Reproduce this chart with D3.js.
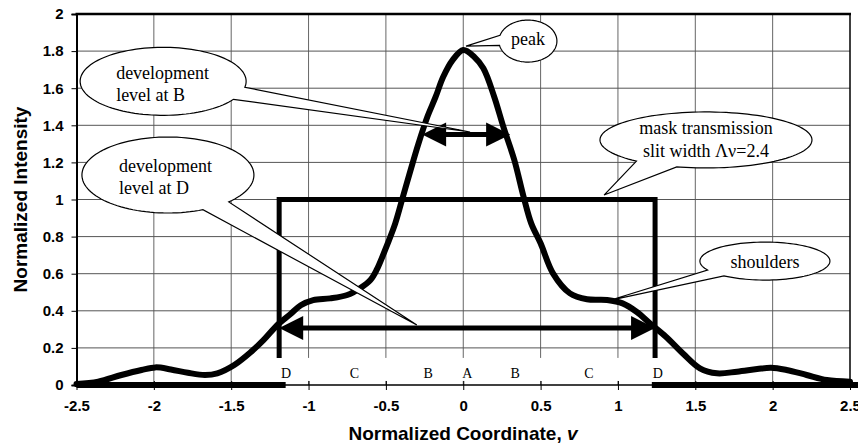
<!DOCTYPE html>
<html>
<head>
<meta charset="utf-8">
<script src="https://cdn.jsdelivr.net/npm/d3@7"></script>
<style>
	body	{margin:0;background:#fff;}
	svg	{display:block;}
</style>
</head>
<body>
<svg id="chart" width="858" height="443"></svg>
<script>
// aerial image intensity
var	curveX	= [-2.5,-2.36,-2.21,-2.08,-1.99,-1.89,-1.78,-1.67,-1.59,-1.48,-1.37,-1.29,-1.2,-1.12,-1.05,-0.97,-0.86,-0.75,-0.67,-0.6,-0.56,-0.49,-0.44,-0.39,-0.34,-0.29,-0.23,-0.18,-0.13,-0.07,0,0.07,0.13,0.2,0.26,0.33,0.39,0.44,0.5,0.58,0.69,0.8,0.93,1.03,1.12,1.21,1.31,1.42,1.53,1.64,1.77,1.9,1.99,2.09,2.22,2.35,2.5],
	curveY	= [0.005,0.018,0.054,0.081,0.095,0.084,0.066,0.054,0.063,0.108,0.18,0.243,0.325,0.38,0.43,0.458,0.467,0.485,0.52,0.566,0.62,0.76,0.87,1.015,1.16,1.3,1.45,1.55,1.66,1.75,1.806,1.77,1.707,1.554,1.39,1.213,1.015,0.87,0.764,0.602,0.494,0.462,0.458,0.44,0.395,0.33,0.26,0.17,0.09,0.063,0.072,0.086,0.093,0.081,0.054,0.027,0.018],
	xTicks	= [-2.5,-2,-1.5,-1,-0.5,0,0.5,1,1.5,2,2.5],
	yTicks	= [0,0.2,0.4,0.6,0.8,1,1.2,1.4,1.6,1.8,2],
	maskEdges	= [-1.19, 1.24],
	maskLevel	= 1,
	maskFoot	= 0.146,
	floorEnds	= [-1.148, 1.219],
	zoneNames	= ["D","C","B","A","B","C","D"],
	zoneX		= [-1.145,-0.703,-0.226,0.026,0.335,0.813,1.258],
	arrowB		= [-0.266, 0.303],
	levelB		= 1.35,
	arrowD		= [-1.19, 1.24],
	levelD		= 0.307;

var	callouts = [
		{lines:["peak"], cx:0.418, cy:1.854, rx:29, ry:21, tip:[0.018,1.827], gap:[168,196], anchor:"middle", tx:0, ty:[4]},
		{lines:["development","level at B"], cx:-1.94, cy:1.637, rx:83, ry:34, tip:[0.044,1.364], gap:[10,32], anchor:"start", tx:-47, ty:[-2,20]},
		{lines:["development","level at D"], cx:-1.909, cy:1.132, rx:86, ry:38, tip:[-0.3,0.323], gap:[45,66], anchor:"start", tx:-49, ty:[-3,19]},
		{lines:["mask transmission","slit width \u039b\u03bd=2.4"], cx:1.569, cy:1.321, rx:106, ry:28, tip:[0.91,1.024], gap:[106,131], anchor:"middle", tx:0, ty:[-6,17]},
		{lines:["shoulders"], cx:1.95, cy:0.668, rx:65, ry:19, tip:[0.954,0.458], gap:[129,152], anchor:"middle", tx:0, ty:[7]}
	];

var	svg	= d3.select("#chart"),
	x	= d3.scaleLinear().domain([-2.5,2.5]).range([76.5,850]),
	y	= d3.scaleLinear().domain([0,2]).range([385,14]),
	pts	= curveX.map(function(v,i){ return [v, curveY[i]]; });

// grid
svg.append("g").selectAll("line").data(xTicks.slice(1,-1)).enter().append("line")
	.attr("x1", function(d){return x(d);}).attr("x2", function(d){return x(d);})
	.attr("y1", y(2)).attr("y2", y(0))
	.attr("stroke", "#666").attr("stroke-width", 1);
svg.append("g").selectAll("line").data(yTicks.slice(1,-1)).enter().append("line")
	.attr("x1", x(-2.5)).attr("x2", x(2.5))
	.attr("y1", function(d){return y(d);}).attr("y2", function(d){return y(d);})
	.attr("stroke", "#555").attr("stroke-width", 1);

// box for the zone letters
svg.append("rect")
	.attr("x", x(-1.17)).attr("width", x(1.24)-x(-1.17))
	.attr("y", y(maskFoot)).attr("height", y(0.022)-y(maskFoot))
	.attr("fill", "white");

// frame
svg.append("line").attr("x1", x(-2.5)-1).attr("x2", x(2.5)+1).attr("y1", y(2)).attr("y2", y(2))
	.attr("stroke", "black").attr("stroke-width", 2.5);
svg.append("line").attr("x1", x(2.5)).attr("x2", x(2.5)).attr("y1", y(2)).attr("y2", y(0))
	.attr("stroke", "black").attr("stroke-width", 1.5);
svg.append("line").attr("x1", x(-2.5)).attr("x2", x(2.5)).attr("y1", y(0)).attr("y2", y(0))
	.attr("stroke", "black").attr("stroke-width", 1.5);

var	yAxis	= svg.append("g").attr("transform", "translate("+x(-2.5)+",0)")
		.call(d3.axisLeft(y).tickValues(yTicks).tickSize(5).tickFormat(function(d){return String(d);}));
yAxis.select(".domain").attr("stroke-width", 2);
yAxis.selectAll("text").attr("x", -13).attr("font-family", "Liberation Sans, Arial, sans-serif")
	.attr("font-weight", "bold").attr("font-size", 15).attr("fill", "black");

var	xAxis	= svg.append("g").attr("transform", "translate(0,"+y(0)+")")
		.call(d3.axisBottom(x).tickValues(xTicks).tickSize(5).tickFormat(function(d){return String(d);}));
xAxis.select(".domain").remove();
xAxis.selectAll(".tick line").attr("y1", -4).attr("y2", 5);
xAxis.selectAll("text").attr("y", 15).attr("dy", "0.71em").attr("font-family", "Liberation Sans, Arial, sans-serif")
	.attr("font-weight", "bold").attr("font-size", 15).attr("fill", "black");

// axis titles
var	xt = svg.append("text").attr("x", 463).attr("y", 440).attr("text-anchor", "middle")
		.attr("font-family", "Liberation Sans, Arial, sans-serif").attr("font-weight", "bold").attr("font-size", 19)
		.text("Normalized Coordinate, ");
xt.append("tspan").attr("font-style", "italic").text("v");
svg.append("text").attr("transform", "translate(27,"+((y(0)+y(2))/2)+") rotate(-90)").attr("text-anchor", "middle")
	.attr("font-family", "Liberation Sans, Arial, sans-serif").attr("font-weight", "bold").attr("font-size", 19)
	.text("Normalized Intensity");

// zone letters
svg.append("g").selectAll("text").data(zoneNames).enter().append("text")
	.attr("x", function(d,i){return x(zoneX[i]);}).attr("y", y(0.038))
	.attr("text-anchor", "middle").attr("font-family", "Liberation Serif, Times New Roman, serif").attr("font-size", 14)
	.text(function(d){return d;});

// mask transmission
svg.append("path")
	.attr("d", d3.line()([[x(maskEdges[0]), y(maskFoot)], [x(maskEdges[0]), y(maskLevel)], [x(maskEdges[1]), y(maskLevel)], [x(maskEdges[1]), y(maskFoot)]]))
	.attr("fill", "none").attr("stroke", "black").attr("stroke-width", 5).attr("stroke-linejoin", "miter");
svg.append("line").attr("x1", x(-2.5)).attr("x2", x(floorEnds[0])).attr("y1", y(0)).attr("y2", y(0))
	.attr("stroke", "black").attr("stroke-width", 6);
svg.append("line").attr("x1", x(floorEnds[1])).attr("x2", x(2.5)+8).attr("y1", y(0)).attr("y2", y(0))
	.attr("stroke", "black").attr("stroke-width", 6);

// double arrows
function doubleArrow(ends, level) {
	var	x0 = x(ends[0]), x1 = x(ends[1]), yy = y(level), len = 24, hw = 12,
		g = svg.append("g");
	g.append("line").attr("x1", x0+len-2).attr("x2", x1-len+2).attr("y1", yy).attr("y2", yy)
		.attr("stroke", "black").attr("stroke-width", 5);
	g.append("path").attr("d", "M"+x0+","+yy+"L"+(x0+len)+","+(yy-hw)+"L"+(x0+len)+","+(yy+hw)+"Z").attr("fill", "black");
	g.append("path").attr("d", "M"+x1+","+yy+"L"+(x1-len)+","+(yy-hw)+"L"+(x1-len)+","+(yy+hw)+"Z").attr("fill", "black");
}
doubleArrow(arrowB, levelB);
doubleArrow(arrowD, levelD);

// intensity curve
svg.append("path").datum(pts)
	.attr("d", d3.line().x(function(d){return x(d[0]);}).y(function(d){return y(d[1]);}).curve(d3.curveCatmullRom))
	.attr("fill", "none").attr("stroke", "black").attr("stroke-width", 6)
	.attr("stroke-linejoin", "round").attr("stroke-linecap", "round");

// speech bubbles
callouts.forEach(function(c) {
	var	cx = x(c.cx), cy = y(c.cy), p = [[x(c.tip[0]), y(c.tip[1])]], a;
	for (a = c.gap[1]; a <= c.gap[0]+360; a += 3) {
		var t = Math.min(a, c.gap[0]+360)*Math.PI/180;
		p.push([cx + c.rx*Math.cos(t), cy + c.ry*Math.sin(t)]);
	}
	var t1 = (c.gap[0]+360)*Math.PI/180;
	p.push([cx + c.rx*Math.cos(t1), cy + c.ry*Math.sin(t1)]);
	var g = svg.append("g");
	g.append("path").attr("d", d3.line().curve(d3.curveLinearClosed)(p))
		.attr("fill", "white").attr("stroke", "black").attr("stroke-width", 1.2).attr("stroke-linejoin", "miter");
	c.lines.forEach(function(l, i) {
		g.append("text").attr("x", cx + c.tx).attr("y", cy + c.ty[i]).attr("text-anchor", c.anchor)
			.attr("font-family", "Liberation Serif, Times New Roman, serif").attr("font-size", 18)
			.text(l);
	});
});
</script>
</body>
</html>
